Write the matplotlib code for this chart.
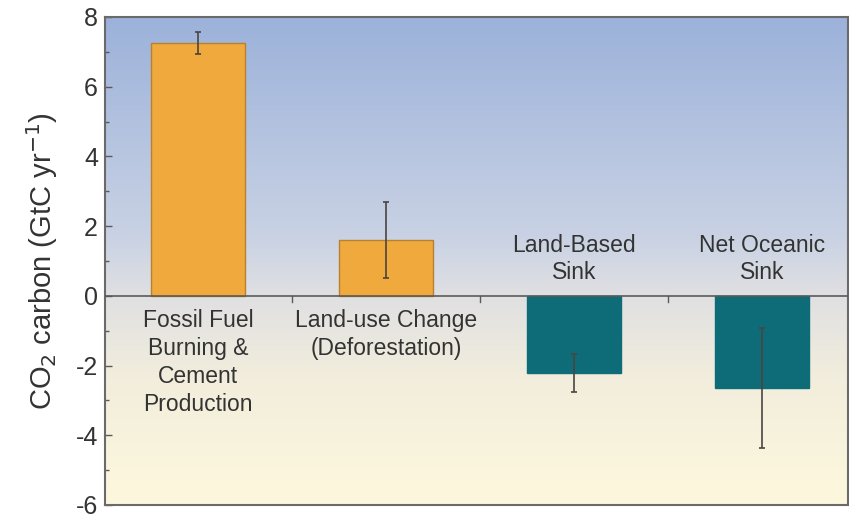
import matplotlib.pyplot as plt
import numpy as np
from matplotlib.colors import LinearSegmentedColormap
from matplotlib.ticker import MultipleLocator

categories = ['Fossil Fuel\nBurning &\nCement\nProduction',
              'Land-use Change\n(Deforestation)',
              'Land-Based\nSink',
              'Net Oceanic\nSink']
values = [7.25, 1.6, -2.22, -2.65]
errors = [0.32, 1.1, 0.55, 1.72]
colors = ['#f0a93c', '#f0a93c', '#0e6b78', '#0e6b78']
edges = ['#b9812e', '#b9812e', '#0e6b78', '#0e6b78']

plt.rcParams['font.family'] = ['Liberation Sans', 'DejaVu Sans']
plt.rcParams['axes.unicode_minus'] = False

fig = plt.figure(figsize=(8.49, 5.14), dpi=100)
ax = fig.add_axes([105 / 849, 1 - 505 / 514, 743 / 849, 488 / 514])

ymin, ymax = -6, 8
xmin, xmax = -0.495, 3.457

# background gradient, blue at top to pale yellow at bottom
bg = LinearSegmentedColormap.from_list('bg', [
    (0.0, '#fdf8dc'),
    (0.25, '#f3eedc'),
    (6 / 14, '#e0e0e2'),
    (0.55, '#c9d2e4'),
    (1.0, '#9cb2da'),
])
grad = np.linspace(0, 1, 256).reshape(-1, 1)
ax.imshow(grad, cmap=bg, aspect='auto', origin='lower',
          extent=(xmin, xmax, ymin, ymax), zorder=0)

x = np.arange(len(categories))
ax.bar(x, values, width=0.5, color=colors, edgecolor=edges, linewidth=1.0, zorder=2)
ax.errorbar(x, values, yerr=errors, fmt='none', ecolor='#4a4540',
            elinewidth=1.2, capsize=2.5, capthick=1.2, zorder=3)

ax.axhline(0, color='#5a5a5a', linewidth=1.2, zorder=4)
for b in [0.5, 1.5, 2.5]:
    ax.plot([b, b], [0, -0.17], color='#5a5a5a', linewidth=1.0, zorder=4)

for xi, v, lab in zip(x, values, categories):
    if v >= 0:
        ax.text(xi, -0.38, lab, ha='center', va='top', fontsize=16.5,
                color='#333333', linespacing=1.27, zorder=5)
    else:
        ax.text(xi, 0.33, lab, ha='center', va='bottom', fontsize=16.5,
                color='#333333', linespacing=1.22, zorder=5)

ax.set_xlim(xmin, xmax)
ax.set_ylim(ymin, ymax)
ax.set_xticks([])
ax.yaxis.set_major_locator(MultipleLocator(2))
ax.yaxis.set_minor_locator(MultipleLocator(1))
ax.tick_params(axis='y', which='major', direction='in', length=5, width=1,
               color='#5a5a5a', labelsize=18, pad=5, labelcolor='#333333')
ax.tick_params(axis='y', which='minor', direction='in', length=3, width=1,
               color='#5a5a5a')
ax.set_ylabel('CO$_2$ carbon (GtC yr$^{-1}$)', fontsize=21, color='#333333',
              labelpad=11)

for s in ax.spines.values():
    s.set_color('#6a6a6a')
    s.set_linewidth(1.5)

fig.savefig('out.png', dpi=100)
